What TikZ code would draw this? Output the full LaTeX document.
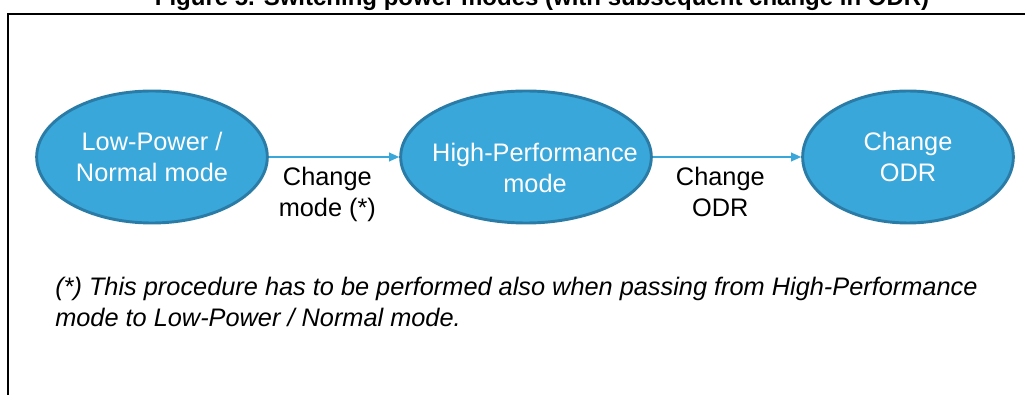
\documentclass[tikz,border=0pt]{standalone}
\usepackage{fontspec}
\setmainfont{Liberation Sans}
\usetikzlibrary{shapes.geometric,arrows.meta}

\definecolor{modefill}{RGB}{58,167,219}
\definecolor{modeline}{RGB}{42,124,166}

\tikzset{
    every node/.style={
        text=black,
        font=\fontsize{19}{23.25}\selectfont
    },
    mode/.style={
        ellipse,
        draw=modeline,
        fill=modefill,
        line width=2.2pt,
        inner sep=0pt,
        minimum height=99pt,
        align=center,
        text=white
    },
    flow/.style={
        color=modefill,
        line width=1.1pt,
        -{Triangle[length=7.5pt,width=6.5pt]}
    }
}
\tikzstyle{change}=[align=center, inner sep=0pt]

\begin{document}
\begin{tikzpicture}[x=0.75pt, y=-0.75pt]
\clip (0,0) rectangle (1025,395);
\useasboundingbox (0,0) rectangle (1025,395);

\node[anchor=base, font=\fontsize{18}{20}\selectfont\bfseries] (title) at (542,6) {Figure 5. Switching power modes (with subsequent change in ODR)};
\draw[line width=1.5pt] (8,14) rectangle (1040,420);

\node[mode, minimum width=173pt] (lp) at (152,157) {Low-Power /\\Normal mode};
\node[mode, minimum width=188pt] (hp) at (526,157) {};
\node[align=center, text=white, inner sep=0pt] (hptext) at (535,168) {High-Performance\\mode};
\node[mode, minimum width=158pt] (odr) at (908,157) {Change\\ODR};

\draw[flow] (lp) -- node[change, below=7pt, xshift=-5pt] {Change\\mode (*)} (hp);
\draw[flow] (hp) -- node[change, below=7pt, xshift=-5pt] {Change\\ODR} (odr);

\node[anchor=base west, align=left, inner sep=0pt, font=\fontsize{19}{23.25}\selectfont\itshape] (note) at (55,327) {(*) This procedure has to be performed also when passing from High-Performance\\mode to Low-Power / Normal mode.};

\end{tikzpicture}
\end{document}
